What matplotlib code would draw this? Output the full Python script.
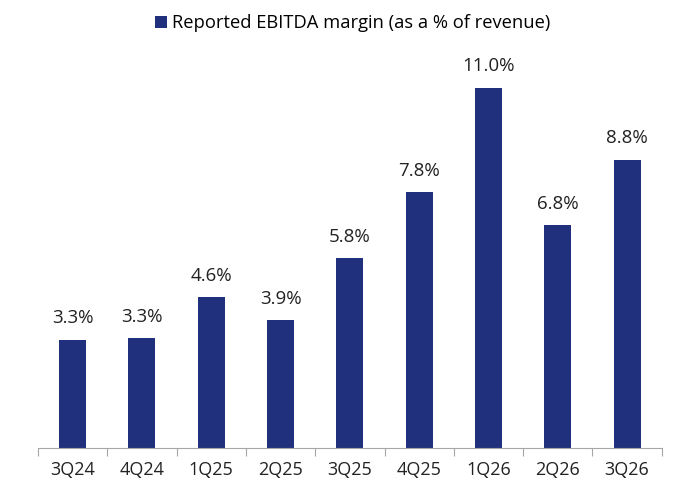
import matplotlib.pyplot as plt

quarters = ['3Q24', '4Q24', '1Q25', '2Q25', '3Q25', '4Q25', '1Q26', '2Q26', '3Q26']
margin = [3.3, 3.35, 4.6, 3.9, 5.8, 7.8, 11.0, 6.8, 8.8]
labels = ['3.3%', '3.3%', '4.6%', '3.9%', '5.8%', '7.8%', '11.0%', '6.8%', '8.8%']

plt.rcParams['font.family'] = ['Open Sans', 'DejaVu Sans']
navy = '#21307c'

fig = plt.figure(figsize=(6.78, 4.82), dpi=100)
ax = fig.add_axes([0.056, 0.0705, 0.92, 0.836])

x = range(len(quarters))
bars = ax.bar(x, margin, width=0.39, color=navy, label='Reported EBITDA margin (as a % of revenue)')

for i, v in enumerate(margin):
    ax.annotate(labels[i], (i, v), xytext=(0, 9), textcoords='offset points',
                ha='center', va='bottom', fontsize=13.5, color='#222222')

ax.set_xlim(-0.5, len(quarters) - 0.5)
ax.set_ylim(0, 12.3)
ax.set_yticks([])
for s in ['top', 'right', 'left']:
    ax.spines[s].set_visible(False)
ax.spines['bottom'].set_color('#a6a6a6')
ax.set_xticks([i - 0.5 for i in range(len(quarters) + 1)])
ax.set_xticklabels([])
ax.set_xticks(list(x), minor=True)
ax.set_xticklabels(quarters, minor=True, fontsize=13, color='#222222')
ax.tick_params(axis='x', which='major', length=6, color='#a6a6a6')
ax.tick_params(axis='x', which='minor', length=0, pad=9)

fig.legend(loc='upper center', bbox_to_anchor=(0.52, 1.005), frameon=False, fontsize=13.2,
           handlelength=0.65, handleheight=0.65, handletextpad=0.3)

fig.savefig('out.png')
